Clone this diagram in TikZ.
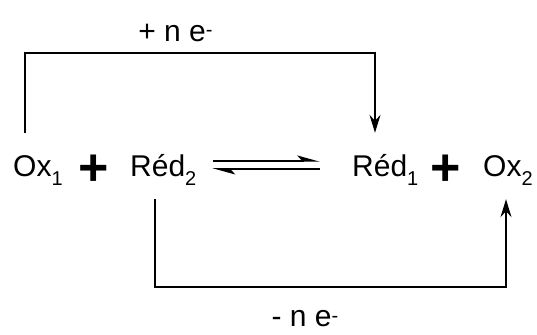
\documentclass[tikz,border=0pt]{standalone}
\usepackage{fontspec}
\setmainfont{Liberation Sans}
\usetikzlibrary{arrows.meta, positioning, calc}
\newcommand{\subidx}[1]{\raisebox{-9pt}{\fontsize{20}{20}\selectfont #1}}
\newcommand{\supminus}{\raisebox{5pt}{\fontsize{20}{20}\selectfont -}}
\tikzset{
    species/.style={anchor=base west, inner xsep=0pt, inner ysep=22pt, text height=22pt, text depth=0pt, font=\fontsize{30}{30}\selectfont},
    plus/.style={inner sep=0pt, font=\fontsize{52}{52}\selectfont\bfseries},
    elec/.style={anchor=base, inner sep=0pt, font=\fontsize{30}{30}\selectfont},
    link/.style={line width=1.5pt, -{Stealth[length=18pt, width=11pt, inset=6pt]}},
    harp/.style={line width=1.5pt, -{Stealth[harpoon, length=20pt, width=11pt, inset=5pt]}}
}

\begin{document}
\begin{tikzpicture}[x=1pt, y=1pt]
    \useasboundingbox (0,0) rectangle (537,334);
    \node (ox1) [species] at (13,157) {Ox\subidx{1}};
    \node (plusA) [plus] at (93.5,164) {+};
    \node (red2) [species] at (130,157) {Réd\subidx{2}};
    \node (red1) [species] at (352,157) {Réd\subidx{1}};
    \node (plusB) [plus] at (446,164) {+};
    \node (ox2) [species] at (483,157) {Ox\subidx{2}};
    \node (gain) [elec] at (175.5,292) {+ n e\supminus};
    \node (loss) [elec] at (305,7) {- n e\supminus};

    % equilibrium
    \draw [harp] ([xshift=16pt, yshift=16pt]red2.base east) -- ([xshift=-32pt, yshift=16pt]red1.base west);
    \draw [harp] ([xshift=-32pt, yshift=8pt]red1.base west) -- ([xshift=16pt, yshift=8pt]red2.base east);

    % electron transfers
    \draw [link] ([xshift=12pt]ox1.north west) -- ++(0,80) -| ([xshift=23pt]red1.north west);
    \draw [link] ([xshift=25pt]red2.south west) -- ++(0,-88) -| ([xshift=23pt]ox2.south west);
\end{tikzpicture}
\end{document}
